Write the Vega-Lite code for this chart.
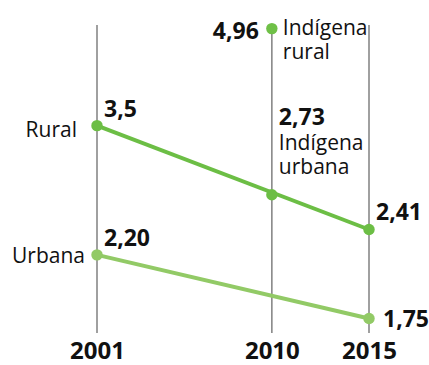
{
  "$schema": "https://vega.github.io/schema/vega-lite/v6.json",
  "width": 272,
  "height": 308,
  "autosize": {"type": "none"},
  "padding": {"left": 97, "top": 25, "right": 60, "bottom": 32},
  "config": {"view": {"stroke": null}, "font": "Open Sans", "text": {"font": "Open Sans", "color": "#111111"}},
  "datasets": {
    "years": [{"year": 2001}, {"year": 2010}, {"year": 2015}],
    "points": [
      {"series": "Rural", "year": 2001, "value": 3.5, "label": "3,5"},
      {"series": "Rural", "year": 2015, "value": 2.41, "label": "2,41"},
      {"series": "Urbana", "year": 2001, "value": 2.20, "label": "2,20"},
      {"series": "Urbana", "year": 2015, "value": 1.75, "label": "1,75"},
      {"series": "Indígena rural", "year": 2010, "value": 4.96, "label": "4,96"},
      {"series": "Indígena urbana", "year": 2010, "value": 2.73, "label": "2,73"}
    ]
  },
  "encoding": {
    "x": {"field": "year", "type": "quantitative", "scale": {"domain": [2001, 2015], "nice": false, "zero": false}},
    "y": {"field": "value", "type": "quantitative", "scale": {"type": "log", "domain": [1.6615, 5.025], "nice": false}, "axis": null}
  },
  "layer": [
    {
      "data": {"name": "years"},
      "mark": {"type": "rule", "color": "#808080", "strokeWidth": 1.5},
      "encoding": {
        "x": {"field": "year", "type": "quantitative", "scale": {"domain": [2001, 2015], "nice": false, "zero": false},
          "axis": {"values": [2001, 2010, 2015], "format": "d", "title": null, "domain": false, "ticks": false, "grid": false,
            "labelFont": "Open Sans", "labelFontSize": 24, "labelFontWeight": "bold", "labelColor": "#111111",
            "labelPadding": 6, "labelFlush": false, "labelOverlap": false}},
        "y": null
      }
    },
    {
      "data": {"name": "points"},
      "transform": [{"filter": "datum.series == 'Rural' || datum.series == 'Urbana'"}],
      "mark": {"type": "line", "strokeWidth": 4},
      "encoding": {
        "color": {"field": "series", "type": "nominal", "legend": null,
          "scale": {"domain": ["Rural", "Urbana", "Indígena rural", "Indígena urbana"], "range": ["#6cbe45", "#92ca66", "#6fc047", "#6cbe45"]}}
      }
    },
    {
      "data": {"name": "points"},
      "mark": {"type": "circle", "size": 130, "opacity": 1},
      "encoding": {
        "color": {"field": "series", "type": "nominal", "legend": null,
          "scale": {"domain": ["Rural", "Urbana", "Indígena rural", "Indígena urbana"], "range": ["#6cbe45", "#92ca66", "#6fc047", "#6cbe45"]}}
      }
    },
    {
      "data": {"name": "points"},
      "transform": [{"filter": "datum.series == 'Rural' || (datum.series == 'Urbana' && datum.year == 2001)"}],
      "mark": {"type": "text", "align": "left", "baseline": "alphabetic", "dx": 7, "dy": -9, "fontSize": 23, "fontWeight": "bold"},
      "encoding": {"text": {"field": "label"}}
    },
    {
      "data": {"name": "points"},
      "transform": [{"filter": "datum.series == 'Urbana' && datum.year == 2015"}],
      "mark": {"type": "text", "align": "left", "baseline": "middle", "dx": 14, "dy": 1, "fontSize": 23, "fontWeight": "bold"},
      "encoding": {"text": {"field": "label"}}
    },
    {
      "data": {"name": "points"},
      "transform": [{"filter": "datum.series == 'Indígena rural'"}],
      "mark": {"type": "text", "align": "right", "baseline": "middle", "dx": -13, "dy": 3, "fontSize": 23, "fontWeight": "bold"},
      "encoding": {"text": {"field": "label"}}
    },
    {
      "data": {"name": "points"},
      "transform": [{"filter": "datum.series == 'Indígena urbana'"}],
      "mark": {"type": "text", "align": "left", "baseline": "alphabetic", "dx": 7, "dy": -70, "fontSize": 23, "fontWeight": "bold"},
      "encoding": {"text": {"field": "label"}}
    },
    {
      "data": {"name": "points"},
      "transform": [{"filter": "datum.series == 'Indígena urbana'"}],
      "mark": {"type": "text", "align": "left", "baseline": "alphabetic", "dx": 7, "dy": -45, "fontSize": 21, "lineBreak": " ", "lineHeight": 24},
      "encoding": {"text": {"field": "series"}}
    },
    {
      "data": {"name": "points"},
      "transform": [{"filter": "datum.series == 'Indígena rural'"}],
      "mark": {"type": "text", "align": "left", "baseline": "alphabetic", "dx": 11, "dy": 6, "fontSize": 21, "lineBreak": " ", "lineHeight": 24},
      "encoding": {"text": {"field": "series"}}
    },
    {
      "data": {"name": "points"},
      "transform": [{"filter": "datum.series == 'Rural' && datum.year == 2001"}],
      "mark": {"type": "text", "align": "right", "baseline": "middle", "dx": -20, "dy": 5, "fontSize": 21},
      "encoding": {"text": {"field": "series"}}
    },
    {
      "data": {"name": "points"},
      "transform": [{"filter": "datum.series == 'Urbana' && datum.year == 2001"}],
      "mark": {"type": "text", "align": "right", "baseline": "middle", "dx": -12, "dy": 2, "fontSize": 21},
      "encoding": {"text": {"field": "series"}}
    }
  ]
}
